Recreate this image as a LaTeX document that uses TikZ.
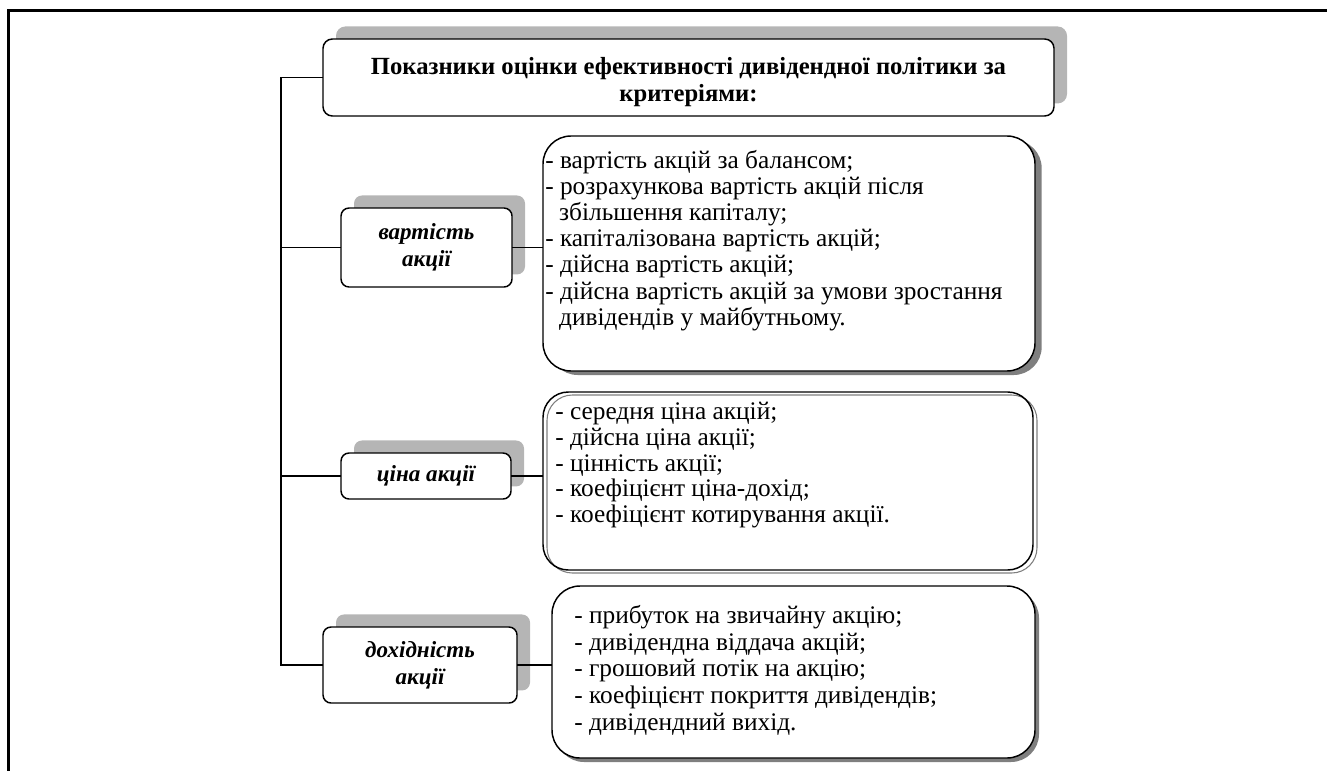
\documentclass[tikz,border=0pt]{standalone}
\usepackage{fontspec}
\setmainfont{Liberation Serif}
\usetikzlibrary{positioning,shadows,calc}
\definecolor{tenlight}{HTML}{B5B5B5}
\definecolor{tendark}{HTML}{7F7F7F}

\begin{document}
\begin{tikzpicture}[x=0.75pt,y=-0.75pt,
  base/.style={draw=black,line width=1.1pt,fill=white,inner sep=0pt,outer sep=0pt},
  head/.style={base,rounded corners=7pt,general shadow={fill=tenlight,shadow xshift=9.75pt,shadow yshift=9.4pt},align=center,font=\fontsize{18.5}{20.25}\selectfont\bfseries},
  crit/.style={base,rounded corners=6pt,general shadow={fill=tenlight,shadow xshift=9.75pt,shadow yshift=9.4pt},align=center,font=\fontsize{17.3}{20.25}\selectfont\bfseries\itshape},
  list/.style={base,rounded corners=21pt},
  listtxt/.style={inner sep=0pt,anchor=north west,align=left,font=\fontsize{19}{19.6}\selectfont},
  link/.style={line width=1.1pt,draw=black}]
\useasboundingbox (0,0) rectangle (1327,771);
% frame
\draw[line width=2.1pt] (1327,10.5) -- (8.5,10.5) -- (8.5,771);

% heading
\node[head,minimum width=548.25pt,minimum height=57.75pt] (title) at (688.5,77.5)
  {\rule{0pt}{19pt}Показники оцінки ефективності дивідендної політики за\\критеріями:};

% criteria
\node[crit,minimum width=128.25pt,minimum height=59.25pt] (b1) at (426.5,247.5) {вартість\\акції};
\node[crit,minimum width=127.5pt,minimum height=34.5pt] (b2) at (426,476) {ціна акції};
\node[crit,minimum width=145.5pt,minimum height=57pt] (b3) at (420,665) {дохідність\\акції};

% lists
\node[list,minimum width=369pt,minimum height=176.25pt,general shadow={fill=tendark,shadow xshift=5pt,shadow yshift=-3pt}] (l1) at (789,253.5) {};
\node[list,fill=none,rounded corners=19pt,minimum width=367.5pt,minimum height=133.5pt,general shadow={draw=tendark,line width=0.8pt,shadow xshift=3pt,shadow yshift=-2.25pt}] (l2) at (788,481) {};
\node[list,minimum width=362.25pt,minimum height=129pt,general shadow={fill=tendark,shadow xshift=3pt,shadow yshift=-3pt}] (l3) at (793.5,672) {};

\node[listtxt] (t1) at ([shift={(2,14)}]l1.north west)
  {- вартість акцій за балансом;\\
   - розрахункова вартість акцій після\\
   \hspace*{0.55em}збільшення капіталу;\\
   - капіталізована вартість акцій;\\
   - дійсна вартість акцій;\\
   - дійсна вартість акцій за умови зростання\\
   \hspace*{0.55em}дивідендів у майбутньому.};
\node[listtxt,font=\fontsize{19}{19.3}\selectfont] (t2) at ([shift={(12,10)}]l2.north west)
  {- середня ціна акцій;\\
   - дійсна ціна акції;\\
   - цінність акції;\\
   - коефіцієнт ціна-дохід;\\
   - коефіцієнт котирування акції.};
\node[listtxt,font=\fontsize{19}{20}\selectfont] (t3) at ([shift={(22,19)}]l3.north west)
  {- прибуток на звичайну акцію;\\
   - дивідендна віддача акцій;\\
   - грошовий потік на акцію;\\
   - коефіцієнт покриття дивідендів;\\
   - дивідендний вихід.};

% connectors
\coordinate (spine) at (281,77.5);
\draw[link] (title.west) -- (spine) |- (b3.west);
\draw[link] (spine |- b1.west) -- (b1.west);
\draw[link] (spine |- b2.west) -- (b2.west);
\draw[link] (b1.east) -- (b1.east -| l1.west);
\draw[link] (b2.east) -- (b2.east -| l2.west);
\draw[link] (b3.east) -- (b3.east -| l3.west);
\end{tikzpicture}
\end{document}
